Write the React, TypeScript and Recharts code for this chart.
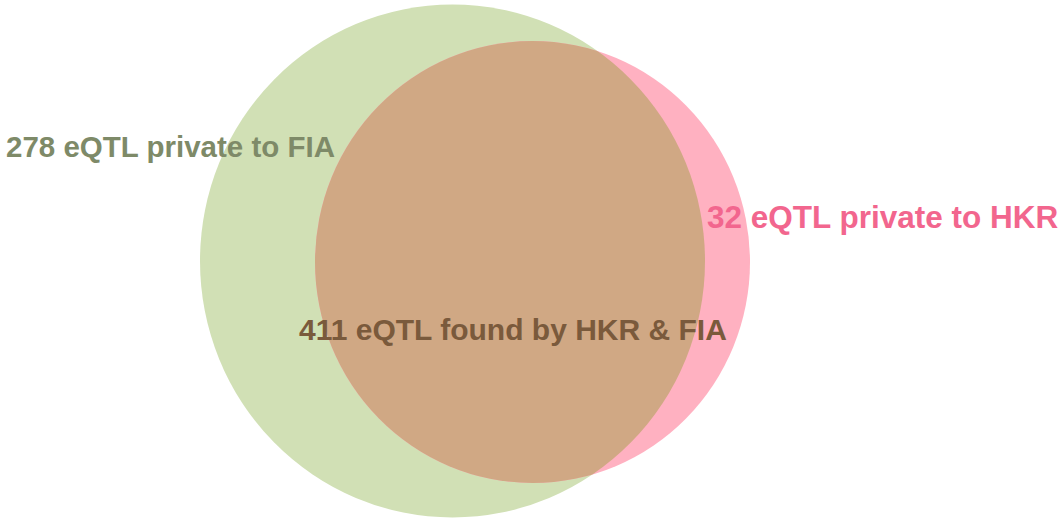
import React from 'react';
import { ScatterChart, Scatter, XAxis, YAxis } from 'recharts';

const CHART_W = 1062;
const CHART_H = 518;
const X_DOMAIN = [0, 1062];
const Y_DOMAIN = [0, 518];

// sets: centre + horizontal/vertical radius in chart units
const fiaSet = [{ name: 'FIA', x: 452.5, y: 261, rx: 252.5, ry: 256.5 }];
const hkrSet = [{ name: 'HKR', x: 532.5, y: 262, rx: 217.5, ry: 221 }];

const labelTexts = ['278 eQTL private to FIA', '32 eQTL private to HKR', '411 eQTL found by HKR & FIA'];
const labelX = [6, 707, 299];
const labelY = [157, 228, 340];
const labelSizes = [29.5, 31.5, 30];
const labelColors = ['#7e8a68', '#f2668e', '#7a5a3c'];

const labels = labelTexts.map((text, i) => ({
  text,
  x: labelX[i],
  y: labelY[i],
  size: labelSizes[i],
  color: labelColors[i],
}));

const kx = CHART_W / (X_DOMAIN[1] - X_DOMAIN[0]);
const ky = CHART_H / (Y_DOMAIN[1] - Y_DOMAIN[0]);

const GreenCircle = (props: any) => {
  const { cx, cy, payload } = props;
  const rx = payload.rx * kx;
  const ry = payload.ry * ky;
  return (
    <g>
      <clipPath id="clip-fia">
        <ellipse cx={cx} cy={cy} rx={rx} ry={ry} />
      </clipPath>
      <ellipse cx={cx} cy={cy} rx={rx} ry={ry} fill="#d1e0b5" />
    </g>
  );
};

const PinkCircle = (props: any) => {
  const { cx, cy, payload } = props;
  return <ellipse cx={cx} cy={cy} rx={payload.rx * kx} ry={payload.ry * ky} fill="#ffb1c1" />;
};

const Overlap = (props: any) => {
  const { cx, cy, payload } = props;
  return (
    <ellipse
      cx={cx}
      cy={cy}
      rx={payload.rx * kx}
      ry={payload.ry * ky}
      fill="#d0a884"
      clipPath="url(#clip-fia)"
    />
  );
};

const LabelShape = (props: any) => {
  const { cx, cy, payload } = props;
  return (
    <text
      x={cx}
      y={cy}
      fill={payload.color}
      fontSize={payload.size}
      fontWeight="bold"
      fontFamily="'Liberation Sans', Arial, sans-serif"
      textAnchor="start"
    >
      {payload.text}
    </text>
  );
};

export default function App() {
  return (
    <div style={{ position: 'absolute', left: 0, top: 0, width: CHART_W, height: CHART_H, background: '#fff' }}>
      <ScatterChart width={CHART_W} height={CHART_H} margin={{ top: 0, right: 0, bottom: 0, left: 0 }}>
        <XAxis type="number" dataKey="x" domain={X_DOMAIN} hide />
        <YAxis type="number" dataKey="y" domain={Y_DOMAIN} reversed hide />
        <Scatter data={fiaSet} shape={GreenCircle} isAnimationActive={false} />
        <Scatter data={hkrSet} shape={PinkCircle} isAnimationActive={false} />
        <Scatter data={hkrSet} shape={Overlap} isAnimationActive={false} />
        <Scatter data={labels} shape={LabelShape} isAnimationActive={false} />
      </ScatterChart>
    </div>
  );
}
